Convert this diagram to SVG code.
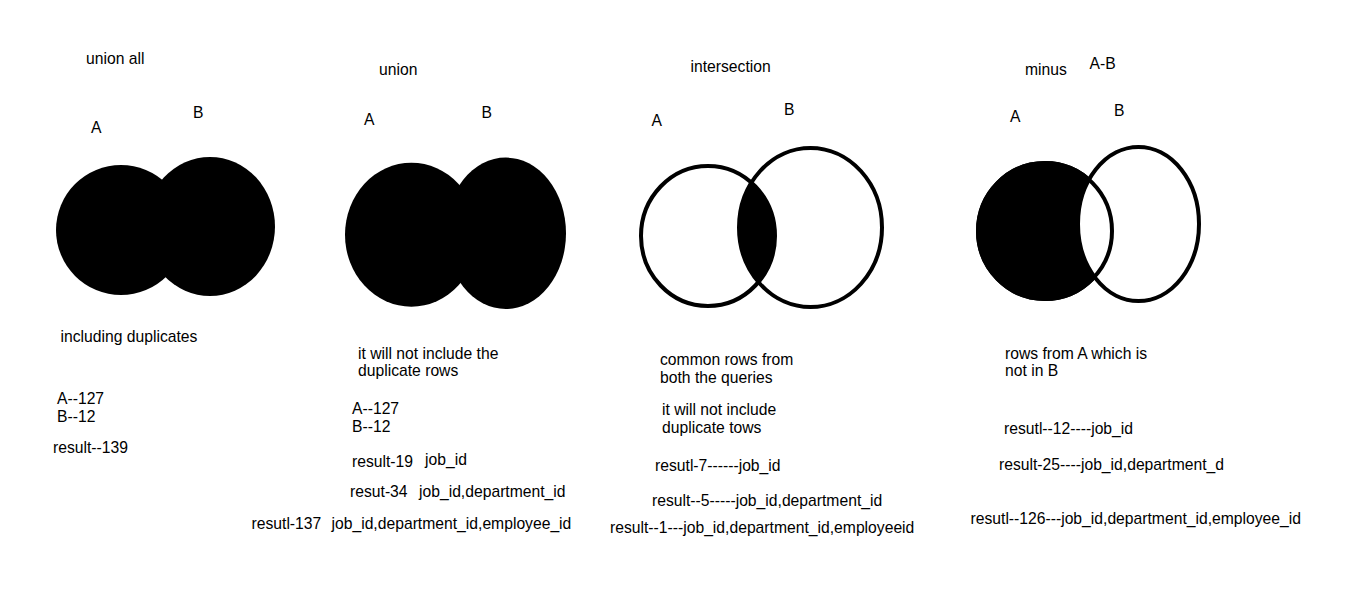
<svg xmlns="http://www.w3.org/2000/svg" width="1360" height="608" viewBox="0 0 1360 608">
<style>
text{font-family:"Liberation Sans",Arial,sans-serif;font-size:15.7px;fill:#000}
.ring{fill:none;stroke:#000;stroke-width:4}
.solid{fill:#000}
</style>
<defs>
<clipPath id="clipIA"><ellipse cx="708" cy="236" rx="67" ry="70"/></clipPath>
</defs>
<rect width="1360" height="608" fill="#fff"/>
<g id="union-all">
<text x="86" y="64">union all</text>
<text x="91" y="133">A</text>
<text x="193" y="118">B</text>
<circle class="solid" cx="121" cy="230" r="65"/>
<ellipse class="solid" cx="210" cy="226.5" rx="65" ry="69.5"/>
<text x="60.5" y="342">including duplicates</text>
<text x="57" y="404">A--127</text>
<text x="57" y="422">B--12</text>
<text x="53" y="453">result--139</text>
</g>
<g id="union">
<text x="379" y="75">union</text>
<text x="364" y="125">A</text>
<text x="481.5" y="117.5">B</text>
<ellipse class="solid" cx="411.4" cy="234.7" rx="66.4" ry="72"/>
<ellipse class="solid" cx="505.8" cy="233.3" rx="60.2" ry="75.7"/>
<text x="358" y="358.5">it will not include the</text>
<text x="358" y="376">duplicate rows</text>
<text x="352" y="414">A--127</text>
<text x="352" y="431.5">B--12</text>
<text x="352" y="467">result-19</text>
<text x="425" y="464.5">job_id</text>
<text x="350" y="497">resut-34</text>
<text x="419" y="497">job_id,department_id</text>
<text x="251.5" y="528.5">resutl-137</text>
<text x="331.5" y="528.5">job_id,department_id,employee_id</text>
</g>
<g id="intersection">
<text x="690.5" y="72">intersection</text>
<text x="651.5" y="125.5">A</text>
<text x="784" y="115">B</text>
<ellipse class="solid" cx="810.5" cy="227.5" rx="71.5" ry="79.5" clip-path="url(#clipIA)"/>
<ellipse class="ring" cx="708" cy="236" rx="67" ry="70"/>
<ellipse class="ring" cx="810.5" cy="227.5" rx="71.5" ry="79.5"/>
<text x="660" y="365">common rows from</text>
<text x="660" y="382.5">both the queries</text>
<text x="662" y="415">it will not include</text>
<text x="662" y="432.5">duplicate tows</text>
<text x="655" y="470.5">resutl-7------job_id</text>
<text x="652" y="505.5">result--5-----job_id,department_id</text>
<text x="610" y="532.5">result--1---job_id,department_id,employeeid</text>
</g>
<g id="minus">
<text x="1025" y="75">minus</text>
<text x="1089.5" y="68.5">A-B</text>
<text x="1010" y="121.5">A</text>
<text x="1114" y="116">B</text>
<ellipse cx="1045" cy="231" rx="67" ry="68" fill="#000" stroke="#000" stroke-width="4"/>
<ellipse cx="1138.5" cy="224" rx="60.5" ry="77" fill="#fff" stroke="#000" stroke-width="4"/>
<ellipse class="ring" cx="1045" cy="231" rx="67" ry="68"/>
<text x="1005" y="358.5">rows from A which is</text>
<text x="1005" y="376">not in B</text>
<text x="1004" y="433.5">resutl--12----job_id</text>
<text x="999" y="470">result-25----job_id,department_d</text>
<text x="970.5" y="523.5">resutl--126---job_id,department_id,employee_id</text>
</g>
</svg>
